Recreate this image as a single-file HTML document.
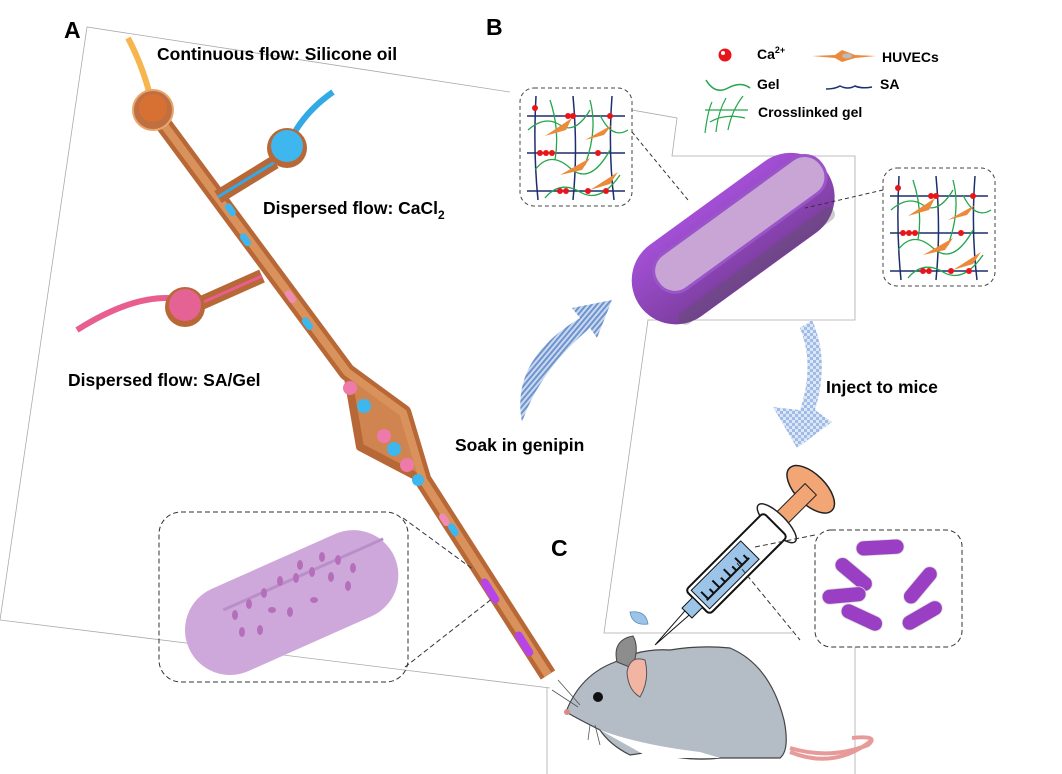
<!DOCTYPE html>
<html><head><meta charset="utf-8"><style>
html,body{margin:0;padding:0;background:#fff}
svg{display:block}
text{font-family:"Liberation Sans",Arial,sans-serif;font-weight:bold;fill:#000}
</style></head><body>
<svg width="1062" height="774" viewBox="0 0 1062 774" xmlns="http://www.w3.org/2000/svg">
<defs>
<pattern id="chk" width="6" height="6" patternUnits="userSpaceOnUse"><rect width="6" height="6" fill="#9fbbe6"/><rect width="3" height="3" fill="#dbe6f7"/><rect x="3" y="3" width="3" height="3" fill="#dbe6f7"/></pattern>
<pattern id="str" width="4" height="4" patternUnits="userSpaceOnUse" patternTransform="rotate(40)"><rect width="4" height="4" fill="#c9d9f0"/><rect width="2" height="4" fill="#6f93cc"/></pattern>
<linearGradient id="tubeg" x1="0" y1="0" x2="0" y2="1"><stop offset="0" stop-color="#a34fd6"/><stop offset="1" stop-color="#7a3d9c"/></linearGradient>
</defs>

<g fill="none" stroke="#aaa" stroke-width="0.8">
<polyline points="510,92 87,27 0,620 550,688"/>
<polyline points="632,110 677,118 672,156 855,156 855,320 648,320 604,633 793,633"/>
<line x1="855" y1="647" x2="855" y2="774"/>
<line x1="547" y1="688" x2="547" y2="774"/>
</g>

<text x="64" y="38" font-size="23">A</text>
<text x="486" y="35" font-size="23">B</text>
<text x="551" y="556" font-size="23">C</text>
<text x="157" y="60" font-size="17.5">Continuous flow: Silicone oil</text>
<text x="263" y="214" font-size="17.5">Dispersed flow: CaCl<tspan font-size="12" dy="5">2</tspan></text>
<text x="68" y="386" font-size="17.5">Dispersed flow: SA/Gel</text>
<text x="455" y="451" font-size="17.5">Soak in genipin</text>

<path d="M128,38 Q145,70 153,108" stroke="#f7b54d" stroke-width="6" fill="none"/>
<path d="M333,92 Q300,115 287,148" stroke="#33a9e5" stroke-width="6" fill="none"/>
<path d="M77,330 Q140,290 185,300" stroke="#e85e8f" stroke-width="6" fill="none"/>

<g stroke-linejoin="round">
<path d="M153,110 L347,372 L403,413 L423,480 L548,675" stroke="#b86836" stroke-width="17" fill="none"/>
<path d="M347,372 L360,447 L423,480 L403,413 Z" fill="#d08550" stroke="#b86836" stroke-width="8"/>
<path d="M153,110 L347,372 L403,413 L423,480 L548,675" stroke="#d9925c" stroke-width="8" fill="none"/>
<path d="M218,197 L275,162" stroke="#b86836" stroke-width="14"/>
<path d="M218,197 L275,162" stroke="#33a9e5" stroke-width="3"/>
<path d="M262,276 L190,308" stroke="#b86836" stroke-width="14"/>
<path d="M262,276 L190,308" stroke="#e85e8f" stroke-width="3"/>
</g>
<circle cx="153" cy="110" r="20" fill="#c07040" stroke="#e9a56e" stroke-width="2"/>
<circle cx="153" cy="108" r="14" fill="#e0722e" opacity="0.7"/>
<circle cx="287" cy="148" r="20" fill="#b86836"/>
<circle cx="287" cy="146" r="16" fill="#3eb6ee"/>
<circle cx="185" cy="307" r="20" fill="#b86836"/>
<circle cx="185" cy="305" r="16" fill="#e56394"/>

<g>
<rect x="223" y="206" width="14" height="7" rx="3.5" fill="#3eb6ee" transform="rotate(55 230 210)"/>
<rect x="238" y="236" width="14" height="7" rx="3.5" fill="#3eb6ee" transform="rotate(55 245 240)"/>
<rect x="283" y="293" width="14" height="7" rx="3.5" fill="#f08bb4" transform="rotate(55 290 297)"/>
<rect x="300" y="320" width="14" height="7" rx="3.5" fill="#3eb6ee" transform="rotate(55 307 324)"/>
<circle cx="350" cy="388" r="7" fill="#ee7aab"/>
<circle cx="364" cy="406" r="7" fill="#3eb6ee"/>
<circle cx="384" cy="436" r="7" fill="#ee7aab"/>
<circle cx="394" cy="449" r="7" fill="#3eb6ee"/>
<circle cx="407" cy="465" r="7" fill="#ee7aab"/>
<circle cx="418" cy="480" r="6" fill="#3eb6ee"/>
<rect x="437" y="516" width="14" height="7" rx="3.5" fill="#f08bb4" transform="rotate(58 444 520)"/>
<rect x="446" y="526" width="14" height="7" rx="3.5" fill="#3eb6ee" transform="rotate(58 453 530)"/>
<rect x="476" y="587" width="28" height="8" rx="4" fill="#b744e8" transform="rotate(58 490 591)"/>
<rect x="510" y="640" width="28" height="8" rx="4" fill="#b744e8" transform="rotate(58 524 644)"/>
</g>

<rect x="159" y="512" width="249" height="170" rx="22" fill="none" stroke="#333" stroke-dasharray="5,3"/>
<line x1="403" y1="518" x2="474" y2="570" stroke="#333" stroke-dasharray="5,3"/>
<line x1="405" y1="667" x2="493" y2="598" stroke="#333" stroke-dasharray="5,3"/>
<g transform="rotate(-24 290 600)">
<rect x="178" y="558" width="225" height="90" rx="45" fill="#cfa8db"/>
<path d="M178,620 L403,620" stroke="#bbb" stroke-width="0" />
<path d="M225,582 L400,582" stroke="#b98fc9" stroke-width="3"/>
</g>
<g fill="#b56fb9">
<ellipse cx="235" cy="615" rx="3" ry="5"/><ellipse cx="249" cy="604" rx="3" ry="5"/><ellipse cx="264" cy="593" rx="3" ry="5"/>
<ellipse cx="280" cy="581" rx="3" ry="5"/><ellipse cx="296" cy="578" rx="3" ry="5"/><ellipse cx="312" cy="572" rx="3" ry="5"/>
<ellipse cx="322" cy="557" rx="3" ry="5"/><ellipse cx="331" cy="577" rx="3" ry="5"/><ellipse cx="348" cy="586" rx="3" ry="5"/>
<ellipse cx="314" cy="600" rx="4" ry="3"/><ellipse cx="290" cy="612" rx="3" ry="5"/><ellipse cx="260" cy="630" rx="3" ry="5"/>
<ellipse cx="242" cy="632" rx="3" ry="5"/><ellipse cx="272" cy="610" rx="4" ry="3"/><ellipse cx="338" cy="560" rx="3" ry="5"/>
<ellipse cx="353" cy="568" rx="3" ry="5"/><ellipse cx="300" cy="565" rx="3" ry="5"/>
</g>

<circle cx="725" cy="55" r="6.5" fill="#e8151a"/><circle cx="723" cy="53" r="2" fill="#fff"/>
<text x="757" y="59" font-size="14">Ca<tspan font-size="9" dy="-6">2+</tspan></text>
<path d="M812,56 L835,55 L842,50 L855,55 L876,56 L855,58 L842,62 L835,58 Z" fill="#ec8a3c"/>
<ellipse cx="847" cy="56" rx="5" ry="2.5" fill="#bbb"/>
<text x="882" y="62" font-size="14">HUVECs</text>
<path d="M706,80 Q715,95 728,88 T750,88" stroke="#26a54b" stroke-width="1.5" fill="none"/>
<text x="757" y="89" font-size="14">Gel</text>
<path d="M826,89 Q835,89 840,86 Q848,90 855,86 Q862,89 872,87" stroke="#1c2e6e" stroke-width="1.5" fill="none"/>
<text x="880" y="89" font-size="14">SA</text>
<g stroke="#26a54b" stroke-width="1.2" fill="none">
<path d="M705,133 Q708,110 712,102 M716,132 Q718,112 726,98 M728,130 Q732,110 743,96 M705,110 Q720,110 748,110 M710,122 Q725,113 745,118"/>
</g>
<text x="758" y="117" font-size="14">Crosslinked gel</text>

<g id="net">
<rect x="520" y="88" width="112" height="118" rx="14" fill="#fff" stroke="#444" stroke-dasharray="4,3"/>
<g stroke="#1c2e6e" stroke-width="1.5" fill="none">
<path d="M527,116 L625,116 M527,153 L625,153 M527,191 L625,191 M536,96 Q533,150 538,200 M573,96 Q578,150 573,200 M612,96 Q608,150 614,200"/>
</g>
<g stroke="#26a54b" stroke-width="1.3" fill="none">
<path d="M528,130 Q545,115 560,125 T590,110 M535,170 Q550,150 570,168 T610,150 M545,198 Q560,180 580,192 T620,175 M550,100 Q560,130 555,160 M590,100 Q598,130 585,165 M600,115 Q612,140 628,130"/>
</g>
<g fill="#ec8a3c"><path d="M545,136 L572,118 L566,130 Z"/><path d="M560,175 L590,158 L582,170 Z"/><path d="M585,140 L612,125 L604,135 Z"/><path d="M590,190 L618,172 L610,184 Z"/></g>
<g fill="#e8151a"><circle cx="535" cy="108" r="3"/><circle cx="568" cy="116" r="3"/><circle cx="573" cy="116" r="3"/><circle cx="610" cy="116" r="3"/><circle cx="540" cy="153" r="3"/><circle cx="546" cy="153" r="3"/><circle cx="552" cy="153" r="3"/><circle cx="598" cy="153" r="3"/><circle cx="560" cy="191" r="3"/><circle cx="566" cy="191" r="3"/><circle cx="588" cy="191" r="3"/><circle cx="606" cy="191" r="3"/></g>
</g>
<use href="#net" transform="translate(363,80)"/>

<g transform="rotate(-36 732 237)">
<rect x="617" y="195" width="230" height="88" rx="44" fill="url(#tubeg)"/>
<rect x="645" y="210" width="202" height="42" rx="20" fill="#c9a5d6"/>
<rect x="645" y="210" width="202" height="42" rx="20" fill="none" stroke="#9a55c8" stroke-width="3"/>
<rect x="640" y="268" width="190" height="14" rx="7" fill="#555" opacity="0.3"/>
</g>
<line x1="632" y1="132" x2="688" y2="200" stroke="#333" stroke-dasharray="4,3"/>
<line x1="883" y1="190" x2="805" y2="208" stroke="#333" stroke-dasharray="4,3"/>

<path d="M522,422 Q510,360 580,318 L572,308 L612,300 L597,338 L590,328 Q540,370 522,422 Z" fill="url(#str)"/>
<path d="M812,320 Q830,360 815,410 L832,422 L797,448 L773,407 L800,410 Q815,365 800,328 Z" fill="url(#chk)"/>
<text x="826" y="393" font-size="17.5">Inject to mice</text>

<g transform="rotate(-45 740 560)">
<ellipse cx="840" cy="560" rx="15" ry="30" fill="#f2a676" stroke="#222" stroke-width="1.5"/>
<rect x="792" y="552" width="48" height="16" fill="#f2a676" stroke="#222"/>
<ellipse cx="792" cy="560" rx="9" ry="26" fill="#fff" stroke="#222" stroke-width="1.5"/>
<rect x="680" y="543" width="110" height="34" rx="4" fill="#fff" stroke="#111" stroke-width="2"/>
<rect x="684" y="547" width="70" height="26" fill="#9cc4e8" stroke="#111"/>
<g stroke="#111" stroke-width="2"><path d="M690,565 v-10 M698,565 v-6 M706,565 v-10 M714,565 v-6 M722,565 v-10 M730,565 v-6 M738,565 v-10 M746,565 v-6 M688,565 h60"/></g>
<rect x="665" y="553" width="15" height="14" fill="#9cc4e8" stroke="#111"/>
<path d="M665,557 L620,560 L665,563 Z" fill="#fff" stroke="#111"/>
</g>
<path d="M630,612 Q646,610 648,624 Q632,626 630,612 Z" fill="#9cc4e8" stroke="#5a8ab8" stroke-width="0.8"/>

<rect x="815" y="530" width="147" height="117" rx="16" fill="#fff" stroke="#333" stroke-dasharray="5,3"/>
<line x1="755" y1="547" x2="815" y2="535" stroke="#333" stroke-dasharray="5,3"/>
<line x1="737" y1="563" x2="800" y2="640" stroke="#333" stroke-dasharray="5,3"/>
<g fill="#9a3fc4" stroke="#ddd" stroke-width="0.8">
<rect x="856" y="540" width="48" height="15" rx="7.5" transform="rotate(-3 880 547)"/>
<rect x="832" y="567" width="44" height="15" rx="7.5" transform="rotate(40 854 574)"/>
<rect x="822" y="588" width="44" height="15" rx="7.5" transform="rotate(-5 844 595)"/>
<rect x="898" y="578" width="44" height="15" rx="7.5" transform="rotate(-50 920 585)"/>
<rect x="840" y="610" width="44" height="15" rx="7.5" transform="rotate(25 862 617)"/>
<rect x="900" y="608" width="44" height="15" rx="7.5" transform="rotate(-30 922 615)"/>
</g>

<path d="M790,748 Q830,760 868,745 Q880,735 852,738 M790,752 Q835,770 872,740" stroke="#e79a9a" stroke-width="4" fill="none"/>
<path d="M566,712 Q580,675 615,662 Q640,648 670,650 Q700,645 730,648 Q770,665 784,720 Q790,750 780,758 L720,758 Q690,762 650,752 L630,755 Q610,745 600,730 Q580,720 566,712 Z" fill="#b4bcc5" stroke="#444" stroke-width="1.2"/>
<path d="M600,730 Q640,745 700,752 L720,758 L650,758 Z" fill="#fff"/>
<path d="M617,662 Q612,640 633,636 Q640,648 632,668 Z" fill="#8d8d8d" stroke="#444"/>
<path d="M627,672 Q630,655 645,660 Q650,680 640,697 Q628,690 627,672 Z" fill="#f2b5a3" stroke="#555"/>
<ellipse cx="598" cy="697" rx="5" ry="5" fill="#111"/>
<circle cx="567" cy="712" r="3" fill="#d88a8a"/>
<g stroke="#555" stroke-width="0.8" fill="none"><path d="M580,705 L558,680 M578,707 L552,690 M590,725 L588,740 M595,725 L600,745"/></g>
</svg>
</body></html>
